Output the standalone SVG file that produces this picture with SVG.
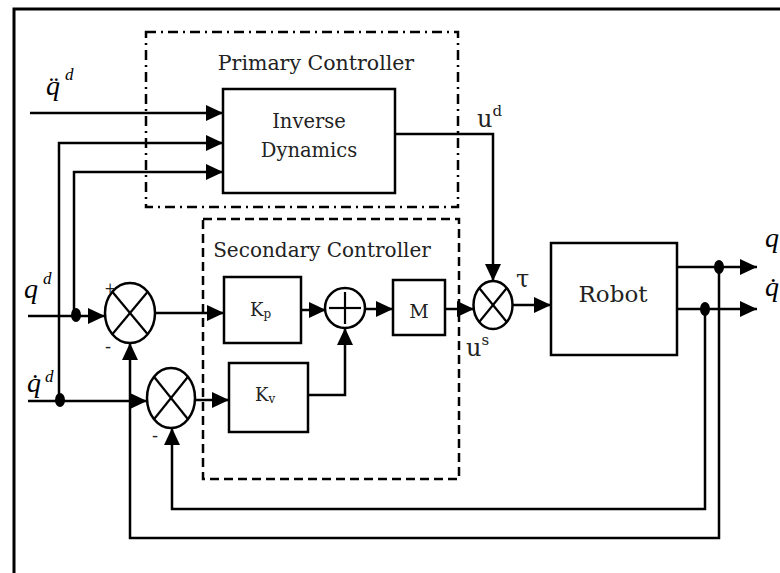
<svg xmlns="http://www.w3.org/2000/svg" width="780" height="573" viewBox="0 0 780 573">
<style>
.ln{fill:none;stroke:#000;stroke-width:2.5}
.arr{marker-end:url(#ah)}
.box{fill:#fff;stroke:#000;stroke-width:2.5}
.sj{fill:#fff;stroke:#000;stroke-width:2.5}
.x{stroke:#000;stroke-width:2.2}
.lbl{font-family:"DejaVu Serif","Liberation Serif",serif;fill:#222}
.q{font-family:"Liberation Serif",serif;font-style:italic;fill:#000}
.dot{fill:#000}
</style>
<defs>
<marker id="ah" markerUnits="userSpaceOnUse" markerWidth="17" markerHeight="17" refX="17" refY="8" orient="auto">
<path d="M0,0 L17,8 L0,16 Z" fill="#000"/>
</marker>
</defs>
<rect x="0" y="0" width="780" height="573" fill="#fff"/>
<rect x="14" y="9" width="800" height="600" fill="none" stroke="#000" stroke-width="3"/>

<g id="primary-controller">
<rect x="146" y="32" width="312" height="175" fill="none" stroke="#000" stroke-width="2.5" stroke-dasharray="10 5 2 5"/>
<text class="lbl" x="316" y="70" font-size="20.5" text-anchor="middle">Primary Controller</text>
</g>
<g id="secondary-controller">
<rect x="203" y="219" width="256" height="260" fill="none" stroke="#000" stroke-width="2.5" stroke-dasharray="9 5"/>
<text class="lbl" x="322" y="257" font-size="20" text-anchor="middle">Secondary Controller</text>
</g>

<g id="connectors">
<path class="ln arr" d="M30,113 H223"/>
<path class="ln arr" d="M59,400 V143 H223"/>
<path class="ln arr" d="M74,315 V172 H223"/>
<path class="ln arr" d="M28,316 H105"/>
<path class="ln arr" d="M28,401 H147"/>
<path class="ln arr" d="M155,313 H224"/>
<path class="ln arr" d="M195,400 H229"/>
<path class="ln arr" d="M301,310 H326"/>
<path class="ln arr" d="M308,395 H345 V328"/>
<path class="ln arr" d="M364,309 H393"/>
<path class="ln arr" d="M445,309 H474"/>
<path class="ln arr" d="M395,134 H493 V281"/>
<path class="ln arr" d="M512,305 H551"/>
<path class="ln arr" d="M677,267 H757"/>
<path class="ln arr" d="M677,309 H757"/>
<path class="ln arr" d="M719,267 V538 H130 V343"/>
<path class="ln arr" d="M705,309 V509 H172 V428"/>
<ellipse class="dot" cx="76" cy="315" rx="5" ry="7"/>
<ellipse class="dot" cx="60" cy="400" rx="5" ry="7"/>
<ellipse class="dot" cx="719" cy="267" rx="5" ry="7"/>
<ellipse class="dot" cx="705" cy="309" rx="5" ry="7"/>
</g>

<g id="inverse-dynamics">
<rect class="box" x="223" y="89" width="172" height="104"/>
<text class="lbl" x="309" y="128" font-size="19.5" text-anchor="middle">Inverse</text>
<text class="lbl" x="309" y="157" font-size="19.5" text-anchor="middle">Dynamics</text>
</g>

<g id="sum-position">
<ellipse class="sj" cx="130" cy="313" rx="25" ry="30"/>
<line class="x" x1="112.3" y1="291.8" x2="147.7" y2="334.2"/>
<line class="x" x1="147.7" y1="291.8" x2="112.3" y2="334.2"/>
<text class="lbl" x="110" y="293" font-size="14" text-anchor="middle">+</text>
<text class="lbl" x="108" y="353" font-size="18" text-anchor="middle">-</text>
</g>

<g id="sum-velocity">
<ellipse class="sj" cx="171" cy="398" rx="24" ry="30"/>
<line class="x" x1="154" y1="376.8" x2="188" y2="419.2"/>
<line class="x" x1="188" y1="376.8" x2="154" y2="419.2"/>
<text class="lbl" x="155" y="442" font-size="18" text-anchor="middle">-</text>
</g>

<g id="kp">
<rect class="box" x="224" y="277" width="77" height="66"/>
<text class="lbl" x="250" y="316" font-size="18">K<tspan font-size="12" dy="2">p</tspan></text>
</g>

<g id="kv">
<rect class="box" x="229" y="363" width="79" height="69"/>
<text class="lbl" x="255" y="401" font-size="18">K<tspan font-size="12" dy="2">v</tspan></text>
</g>

<g id="sum-plus">
<ellipse class="sj" cx="345" cy="308" rx="20" ry="20"/>
<line class="x" x1="329" y1="308" x2="361" y2="308" stroke-width="3"/>
<line class="x" x1="345" y1="292" x2="345" y2="324" stroke-width="3"/>
</g>

<g id="m">
<rect class="box" x="393" y="280" width="52" height="55"/>
<text class="lbl" x="419" y="318" font-size="19" text-anchor="middle">M</text>
</g>

<g id="sum-torque">
<ellipse class="sj" cx="493" cy="305" rx="19.5" ry="24"/>
<line class="x" x1="479.2" y1="288" x2="506.8" y2="322"/>
<line class="x" x1="506.8" y1="288" x2="479.2" y2="322"/>
</g>

<g id="robot">
<rect class="box" x="551" y="243" width="126" height="112" stroke-width="3"/>
<text class="lbl" x="613" y="302" font-size="23" text-anchor="middle">Robot</text>
</g>

<g id="labels">
<text class="q" x="46" y="95" font-size="28">q&#x308;</text>
<text class="q" x="65" y="80" font-size="17">d</text>
<text class="q" x="24" y="298" font-size="28">q</text>
<text class="q" x="43" y="284" font-size="17">d</text>
<text class="q" x="27" y="392" font-size="28">q&#x307;</text>
<text class="q" x="45" y="382" font-size="17">d</text>
<text class="q" x="765" y="247" font-size="28">q</text>
<text class="q" x="765" y="296" font-size="28">q&#x307;</text>
<text class="lbl" x="477" y="127" font-size="24">u<tspan font-size="15" dy="-11">d</tspan></text>
<text class="lbl" x="466" y="356" font-size="24">u<tspan font-size="15" dy="-11">s</tspan></text>
<text class="lbl" x="516" y="287" font-size="24">τ</text>
</g>
</svg>
